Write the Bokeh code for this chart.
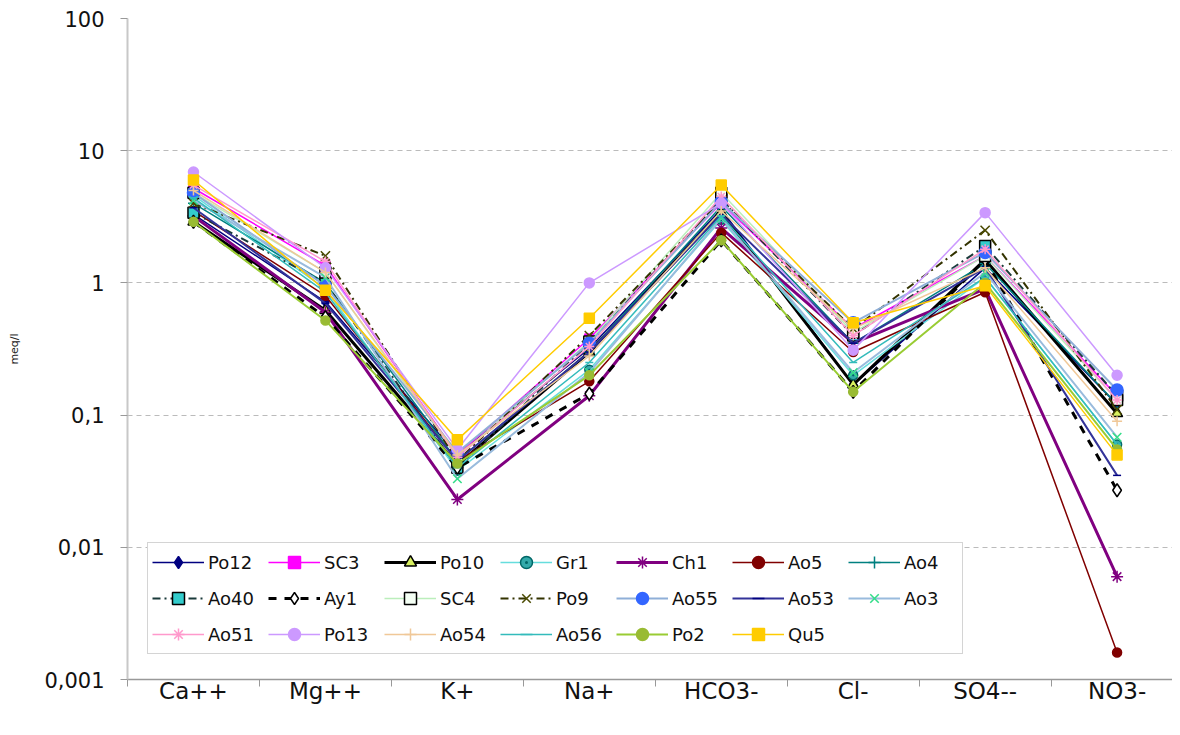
from bokeh.plotting import figure
from bokeh.models import (Range1d, FixedTicker, Legend, LegendItem, ColumnDataSource)
from bokeh.embed import file_html
from bokeh.resources import INLINE

ions = ["Ca++", "Mg++", "K+", "Na+", "HCO3-", "Cl-", "SO4--", "NO3-"]
y_ticks = [0.001, 0.01, 0.1, 1, 10, 100]
y_tick_labels = ["0,001", "0,01", "0,1", "1", "10", "100"]

Po12 = [3.3, 0.72, 0.050, 0.32, 3.6, 0.17, 1.3, 0.12]
SC3 = [5.2, 1.35, 0.050, 0.38, 4.0, 0.45, 1.6, 0.14]
Po10 = [2.9, 0.62, 0.042, 0.30, 3.4, 0.17, 1.5, 0.103]
Gr1 = [4.6, 0.90, 0.038, 0.22, 3.0, 0.20, 1.1, 0.060]
Ch1 = [3.2, 0.60, 0.023, 0.14, 2.6, 0.35, 0.9, 0.006]
Ao5 = [3.5, 0.80, 0.045, 0.18, 2.4, 0.30, 0.85, 0.0016]
Ao4 = [4.0, 1.00, 0.045, 0.30, 3.8, 0.35, 1.4, 0.12]
Ao40 = [3.4, 1.00, 0.040, 0.35, 4.3, 0.40, 1.9, 0.14]
Ay1 = [2.9, 0.55, 0.040, 0.145, 2.1, 0.15, 1.5, 0.027]
SC4 = [4.8, 1.20, 0.048, 0.36, 4.8, 0.42, 1.6, 0.13]
Po9 = [4.0, 1.60, 0.045, 0.40, 4.2, 0.45, 2.5, 0.11]
Ao55 = [4.8, 0.95, 0.052, 0.35, 4.1, 0.50, 1.7, 0.155]
Ao53 = [3.7, 0.70, 0.045, 0.30, 3.3, 0.35, 1.3, 0.035]
Ao3 = [4.2, 1.10, 0.033, 0.21, 3.1, 0.21, 1.2, 0.068]
Ao51 = [5.5, 1.45, 0.048, 0.33, 4.5, 0.40, 1.8, 0.13]
Po13 = [6.9, 1.30, 0.055, 1.00, 4.0, 0.31, 3.4, 0.20]
Ao54 = [5.0, 1.20, 0.050, 0.28, 3.5, 0.45, 1.3, 0.09]
Ao56 = [4.4, 0.85, 0.040, 0.25, 3.2, 0.25, 1.1, 0.060]
Po2 = [2.9, 0.52, 0.043, 0.20, 2.1, 0.15, 1.0, 0.055]
Qu5 = [6.0, 0.88, 0.065, 0.54, 5.5, 0.50, 0.95, 0.050]

series = [
    # name, values, line color, width, dash, marker, fill, edge, size
    ("Po12", Po12, "#000080", 1.5, "solid", "diamond", "#000080", "#000080", 11),
    ("SC3", SC3, "#FF00FF", 1.5, "solid", "square", "#FF00FF", "#FF00FF", 9),
    ("Po10", Po10, "#000000", 3, "solid", "triangle", "#D8F060", "#000000", 11),
    ("Gr1", Gr1, "#66DDDD", 1.5, "solid", "circle_dot", "#33AAAA", "#006666", 9),
    ("Ch1", Ch1, "#800080", 3, "solid", "asterisk", "#800080", "#800080", 12),
    ("Ao5", Ao5, "#800000", 1.5, "solid", "circle", "#800000", "#800000", 9),
    ("Ao4", Ao4, "#008080", 1.5, "solid", "cross", "#008080", "#008080", 11),
    ("Ao40", Ao40, "#1a3a3a", 2, "8 4 2 4", "square", "#33CCCC", "#000000", 11),
    ("Ay1", Ay1, "#000000", 3, "8 8", "diamond", "#FFFFFF", "#000000", 13),
    ("SC4", SC4, "#BBEEBB", 1.5, "solid", "square", "#F4FFF4", "#000000", 11),
    ("Po9", Po9, "#333300", 2, "8 4 2 4", "x", "#4a4a00", "#4a4a00", 13),
    ("Ao55", Ao55, "#8FAFD8", 2, "solid", "circle", "#3366FF", "#3366FF", 12),
    ("Ao53", Ao53, "#333399", 2, "solid", "dash", "#000080", "#000080", 8),
    ("Ao3", Ao3, "#99BBDD", 2, "solid", "x", "#33DD88", "#33DD88", 12),
    ("Ao51", Ao51, "#FF99CC", 1.5, "solid", "asterisk", "#FF99CC", "#FF99CC", 10),
    ("Po13", Po13, "#CC99FF", 1.5, "solid", "circle", "#CC99FF", "#CC99FF", 10),
    ("Ao54", Ao54, "#F0C898", 1.5, "solid", "cross", "#F0C898", "#F0C898", 10),
    ("Ao56", Ao56, "#33BBBB", 1.5, "solid", "dash", "#33BBBB", "#33BBBB", 8),
    ("Po2", Po2, "#99CC33", 2, "solid", "circle", "#99BB33", "#99BB33", 9),
    ("Qu5", Qu5, "#FFCC00", 1.5, "solid", "square", "#FFCC00", "#FFCC00", 10),
]

xs = list(range(len(ions)))

p = figure(width=1172, height=716, output_backend="svg", toolbar_location=None,
           y_axis_type="log", x_range=Range1d(-0.5, 7.42), y_range=Range1d(0.001, 100),
           min_border_left=127, min_border_top=18, min_border_right=0, min_border_bottom=37)
p.outline_line_color = None
p.background_fill_color = "white"
p.border_fill_color = "white"

items = []
for name, vals, lc, lw, dash, mk, fc, ec, sz in series:
    src = ColumnDataSource(dict(x=xs, y=vals))
    lr = p.line("x", "y", source=src, line_color=lc, line_width=lw, line_dash=dash)
    sr = p.scatter("x", "y", source=src, marker=mk, size=sz, fill_color=fc,
                   line_color=ec, line_width=1.5)
    items.append(LegendItem(label=name, renderers=[lr, sr]))

# axes
p.xaxis.ticker = FixedTicker(ticks=xs, minor_ticks=[i - 0.5 for i in xs] + [7.5])
p.xaxis.major_label_overrides = {i: s for i, s in enumerate(ions)}
p.xaxis.major_tick_line_color = None
p.xaxis.major_tick_out = 0
p.xaxis.major_tick_in = 0
p.xaxis.minor_tick_line_color = "#999999"
p.xaxis.minor_tick_out = 7
p.xaxis.minor_tick_in = 0
p.xaxis.axis_line_color = "#999999"
p.xaxis.axis_line_width = 1.5
p.xaxis.major_label_text_font = "DejaVu Sans"
p.xaxis.major_label_text_font_size = "23px"
p.xaxis.major_label_text_color = "#111111"
p.xaxis.major_label_standoff = -9

p.yaxis.ticker = FixedTicker(ticks=y_ticks, minor_ticks=[])
p.yaxis.major_label_overrides = {t: s for t, s in zip(y_ticks, y_tick_labels)}
p.yaxis.axis_line_color = "#C8C8C8"
p.yaxis.axis_line_width = 2
p.yaxis.major_tick_line_color = "#999999"
p.yaxis.major_tick_out = 7
p.yaxis.major_tick_in = 0
p.yaxis.minor_tick_line_color = None
p.yaxis.major_label_text_font = "DejaVu Sans"
p.yaxis.major_label_text_font_size = "21px"
p.yaxis.major_label_text_color = "#111111"
p.yaxis.major_label_standoff = 16
p.yaxis.axis_label = "meq/l"
p.yaxis.axis_label_text_font = "DejaVu Sans"
p.yaxis.axis_label_text_font_size = "11px"
p.yaxis.axis_label_text_font_style = "normal"
p.yaxis.axis_label_text_color = "#222222"
p.yaxis.axis_label_standoff = 20

p.xgrid.grid_line_color = None
p.ygrid.grid_line_color = "#BBBBBB"
p.ygrid.grid_line_dash = "5 4"
p.ygrid.grid_line_width = 1

legend = Legend(items=items, orientation="horizontal", ncols=7, location=(20, 25),
                glyph_width=52, glyph_height=30, label_standoff=4, label_width=54,
                spacing=6, padding=4, margin=0,
                label_text_font="DejaVu Sans", label_text_font_size="18px",
                label_text_color="#111111",
                border_line_color="#AAAAAA", border_line_width=1.5,
                background_fill_color="white", background_fill_alpha=1)
p.add_layout(legend, "center")

open("out.html", "w").write(file_html(p, INLINE))
